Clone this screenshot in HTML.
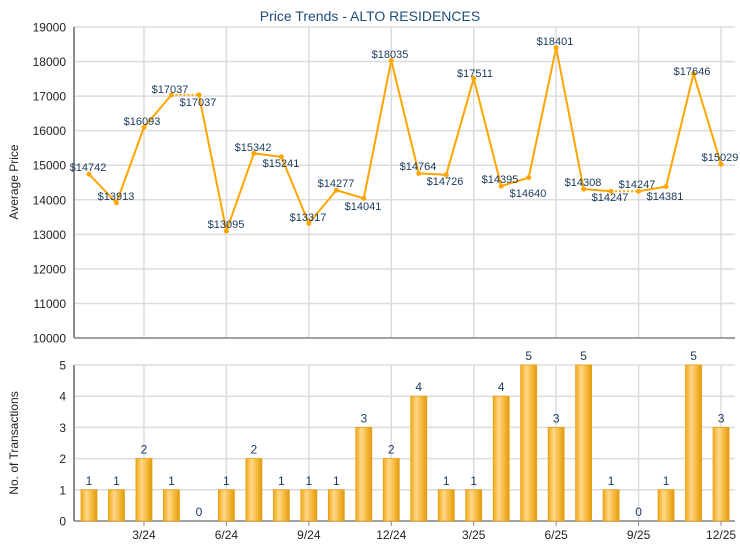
<!DOCTYPE html>
<html><head><meta charset="utf-8"><style>
html,body{margin:0;padding:0;background:#fff;}
svg{display:block;font-family:"Liberation Sans",Arial,sans-serif;}
</style></head><body>
<svg id="s" width="740" height="550" xmlns="http://www.w3.org/2000/svg">
<defs>
<linearGradient id="bg" x1="0" x2="1" y1="0" y2="0">
<stop offset="0" stop-color="#f0a818"/><stop offset="0.35" stop-color="#ffd88a"/><stop offset="0.7" stop-color="#f5b83a"/><stop offset="1" stop-color="#e09a10"/>
</linearGradient>
</defs>
<text x="370" y="21" text-anchor="middle" font-size="14" fill="#1f4e79">Price Trends - ALTO RESIDENCES</text>
</svg>
<script>
var s=document.getElementById('s'),h='';
var L=74,R=735,T=27,B=338,BT=365,BB=521;
function X(i){return 89+i*27.48;}
function Y(v){return B-(v-10000)*(B-T)/9000;}
function BY(v){return BB-v*(BB-BT)/5;}
for(var k=0;k<=9;k++){var y=Y(10000+k*1000);h+='<line x1="'+L+'" x2="'+R+'" y1="'+y+'" y2="'+y+'" stroke="#dcdcdc" stroke-width="1.5"/>';
h+='<text x="66" y="'+(y+4.5)+'" text-anchor="end" font-size="12" fill="#222">'+(10000+k*1000)+'</text>';}
for(var k=0;k<=5;k++){var y=BY(k);h+='<line x1="'+L+'" x2="'+R+'" y1="'+y+'" y2="'+y+'" stroke="#dcdcdc" stroke-width="1.5"/>';
h+='<text x="66" y="'+(y+4.5)+'" text-anchor="end" font-size="12" fill="#222">'+k+'</text>';}
var ml=['3/24','6/24','9/24','12/24','3/25','6/25','9/25','12/25'];
for(var m=0;m<8;m++){var x=X(2+3*m);
h+='<line x1="'+x+'" x2="'+x+'" y1="'+T+'" y2="'+B+'" stroke="#dcdcdc" stroke-width="1.5"/>';
h+='<line x1="'+x+'" x2="'+x+'" y1="'+BT+'" y2="'+BB+'" stroke="#dcdcdc" stroke-width="1.5"/>';
h+='<line x1="'+x+'" x2="'+x+'" y1="'+BB+'" y2="'+(BB+5)+'" stroke="#888"/>';
h+='<text x="'+x+'" y="539" text-anchor="middle" font-size="12" fill="#222">'+ml[m]+'</text>';}
h+='<line x1="'+L+'" x2="'+L+'" y1="'+T+'" y2="'+B+'" stroke="#666" stroke-width="1.5"/><line x1="'+L+'" x2="'+R+'" y1="'+B+'" y2="'+B+'" stroke="#888" stroke-width="1.5"/>';
h+='<line x1="'+L+'" x2="'+L+'" y1="'+BT+'" y2="'+BB+'" stroke="#666" stroke-width="1.5"/><line x1="'+L+'" x2="'+R+'" y1="'+BB+'" y2="'+BB+'" stroke="#888" stroke-width="1.5"/>';
h+='<text transform="translate(18,182) rotate(-90)" text-anchor="middle" font-size="12" fill="#222">Average Price</text>';
h+='<text transform="translate(18,443) rotate(-90)" text-anchor="middle" font-size="12" fill="#222">No. of Transactions</text>';
var p=[14742,13913,16093,17037,17037,13095,15342,15241,13317,14277,14041,18035,14764,14726,17511,14395,14640,18401,14308,14247,14247,14381,17646,15029];
var ly=[167,196,121,89,102,224,147,163,217,183,206,54,166,181,73,179,193,41,182,197,184,196,71,157];
var lx=[88,116,142,170,198,226,253,281,308,336,363,390,418,445,475,500,528,555,583,610,637,665,692,720];
var n=[1,1,2,1,0,1,2,1,1,1,3,2,4,1,1,4,5,3,5,1,0,1,5,3];
for(var i=0;i<24;i++){var x=X(i);
if(n[i]>0){h+='<rect x="'+(x-8)+'" y="'+BY(n[i])+'" width="16" height="'+(BB-BY(n[i]))+'" fill="url(#bg)" stroke="#e8a010" stroke-width="0.8"/>';}
h+='<text x="'+x+'" y="'+(BY(n[i])-5)+'" text-anchor="middle" font-size="12" fill="#1a3a5c">'+n[i]+'</text>';}
for(var i=0;i<23;i++){var dash=(n[i+1]==0)?' stroke-dasharray="2,2"':'';
h+='<line x1="'+X(i)+'" y1="'+Y(p[i])+'" x2="'+X(i+1)+'" y2="'+Y(p[i+1])+'" stroke="#ffa500" stroke-width="2"'+dash+'/>';}
for(var i=0;i<24;i++){h+='<circle cx="'+X(i)+'" cy="'+Y(p[i])+'" r="2.5" fill="#ffa500"/>';
h+='<text x="'+lx[i]+'" y="'+(ly[i]+4)+'" text-anchor="middle" font-size="11" fill="#1a3a5c">$'+p[i]+'</text>';}
s.insertAdjacentHTML('beforeend',h);
</script>
</body></html>
